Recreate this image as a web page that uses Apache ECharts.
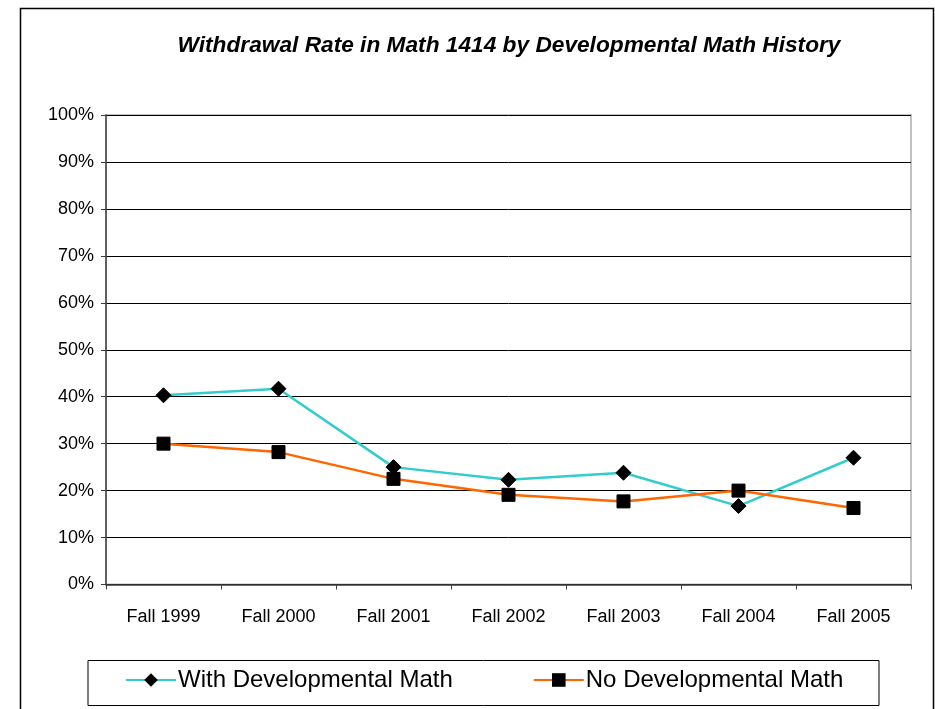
<!DOCTYPE html>
<html>
<head>
<meta charset="utf-8">
<script src="https://cdn.jsdelivr.net/npm/echarts@6/dist/echarts.min.js"></script>
<style>
html,body{margin:0;padding:0;background:#fff;}
#c{width:935px;height:709px;}
</style>
</head>
<body>
<div id="c"></div>
<script>
const titleText = 'Withdrawal Rate in Math 1414 by Developmental Math History';
const categories = ['Fall 1999','Fall 2000','Fall 2001','Fall 2002','Fall 2003','Fall 2004','Fall 2005'];
const withDevName = 'With Developmental Math';
const noDevName = 'No Developmental Math';
const withDev = [40.3, 41.7, 25.0, 22.3, 23.8, 16.7, 27.0];
const noDev = [30.0, 28.2, 22.5, 19.1, 17.7, 20.0, 16.3];
const yMin = 0, yMax = 100, yStep = 10;

const font = '"Liberation Sans", Arial, sans-serif';
const chart = echarts.init(document.getElementById('c'), null, {renderer: 'canvas'});
chart.setOption({
  animation: false,
  backgroundColor: '#fff',
  textStyle: {fontFamily: font},
  title: {
    text: titleText,
    left: 504, top: 29, textAlign: 'center',
    textStyle: {fontFamily: font, fontSize: 22.7, fontWeight: 'bold', fontStyle: 'italic', color: '#000'}
  },
  graphic: [
    {type: 'rect', left: 18, top: 6, shape: {width: 913, height: 720},
     style: {fill: 'none', stroke: '#000', lineWidth: 1.5}, silent: true, z: -1},
    {type: 'rect', left: 85.5, top: 658, shape: {width: 791, height: 45},
     style: {fill: 'none', stroke: '#000', lineWidth: 1}, silent: true, z: -1}
  ],
  legend: {
    left: 125, top: 668, padding: 0,
    itemWidth: 50, itemHeight: 17, itemGap: 80,
    textStyle: {fontFamily: font, fontSize: 24, color: '#000', padding: [0,0,0,-3]},
    data: [withDevName, noDevName]
  },
  grid: {
    left: 106, right: 24, top: 115, bottom: 124.5,
    show: true, borderColor: '#c0c0c0', borderWidth: 2, backgroundColor: 'transparent'
  },
  xAxis: {
    type: 'category', data: categories, boundaryGap: true,
    axisLine: {lineStyle: {color: '#404040', width: 1.5}},
    axisTick: {show: true, length: 5, lineStyle: {color: '#404040'}},
    axisLabel: {fontFamily: font, fontSize: 18, color: '#000', margin: 24}
  },
  yAxis: {
    type: 'value', min: yMin, max: yMax, interval: yStep,
    axisLine: {show: true, lineStyle: {color: '#404040', width: 1.5}},
    axisTick: {show: true, length: 5, lineStyle: {color: '#404040'}},
    axisLabel: {fontFamily: font, fontSize: 18, color: '#000', margin: 12, formatter: '{value}%'},
    splitLine: {show: true, lineStyle: {color: '#000', width: 1}}
  },
  series: [
    {name: withDevName, type: 'line', data: withDev,
     symbol: 'diamond', symbolSize: 15,
     lineStyle: {color: '#33CCCC', width: 2.5},
     itemStyle: {color: '#000', borderColor: '#000'}, z: 3},
    {name: noDevName, type: 'line', data: noDev,
     symbol: 'rect', symbolSize: 13,
     lineStyle: {color: '#FF6600', width: 2.5},
     itemStyle: {color: '#000', borderColor: '#000'}, z: 4}
  ]
});
</script>
</body>
</html>
